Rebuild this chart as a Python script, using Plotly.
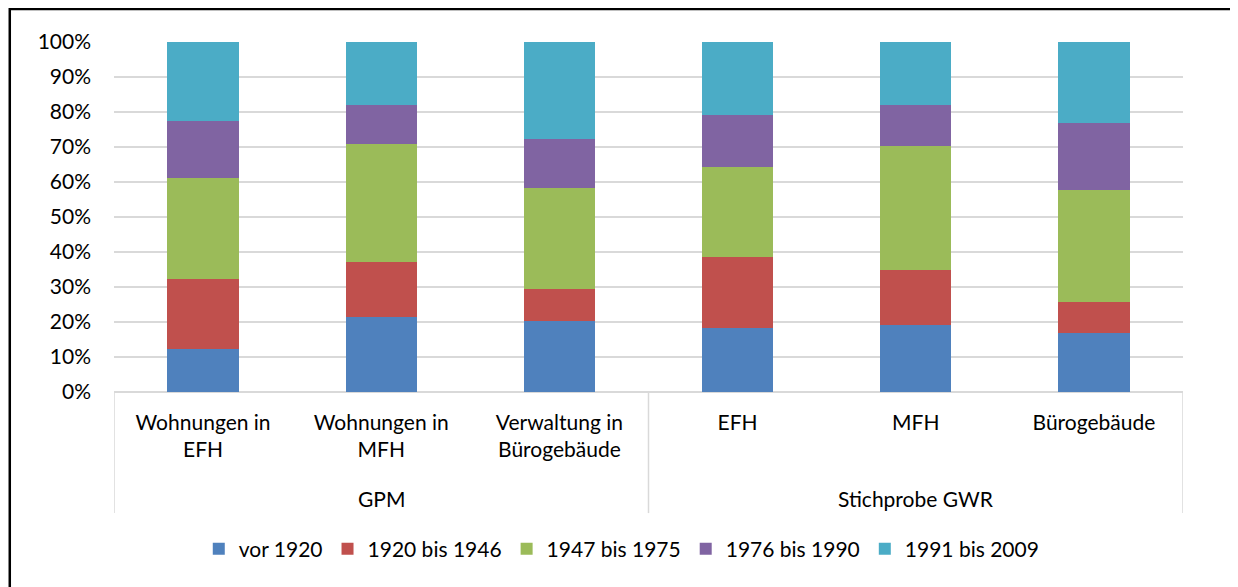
import plotly.graph_objects as go

categories = ["Wohnungen in EFH", "Wohnungen in MFH", "Verwaltung in Bürogebäude",
              "EFH", "MFH", "Bürogebäude"]
category_labels = ["Wohnungen in<br>EFH", "Wohnungen in<br>MFH", "Verwaltung in<br>Bürogebäude",
                   "EFH", "MFH", "Bürogebäude"]
groups = ["GPM", "Stichprobe GWR"]
group_members = [[0, 1, 2], [3, 4, 5]]

series_names = ["vor 1920", "1920 bis 1946", "1947 bis 1975", "1976 bis 1990", "1991 bis 2009"]
vor_1920 = [12.3, 21.3, 20.4, 18.2, 19.1, 17.0]
b1920_1946 = [20.0, 15.8, 8.9, 20.3, 15.9, 8.7]
b1947_1975 = [28.8, 33.8, 29.1, 25.8, 35.4, 32.0]
b1976_1990 = [16.3, 11.2, 14.0, 14.8, 11.6, 19.2]
b1991_2009 = [22.6, 17.9, 27.6, 20.9, 18.0, 23.1]
series_values = [vor_1920, b1920_1946, b1947_1975, b1976_1990, b1991_2009]
colors = ["#4F81BD", "#C0504D", "#9BBB59", "#8064A2", "#4BACC6"]

FONT = "Lato"
FS = 21

fig = go.Figure()
for name, vals, col in zip(series_names, series_values, colors):
    fig.add_trace(go.Bar(
        x=categories, y=vals, name=name,
        marker=dict(color=col, line=dict(width=0)),
        width=0.4,
    ))

shapes = []
# group divider lines below the category axis
for xv in [-0.5, 2.5, 5.5]:
    shapes.append(dict(type="line", xref="x", yref="paper", x0=xv, x1=xv, y0=0, y1=-0.346,
                       line=dict(color="#D9D9D9", width=1.5)))
# outer chart border
shapes.append(dict(type="rect", xref="paper", yref="paper", x0=-0.0975, x1=1.050, y0=-0.8, y1=1.0943,
                   line=dict(color="black", width=2.5), fillcolor="rgba(0,0,0,0)", layer="above"))

annotations = []
for g, members in zip(groups, group_members):
    annotations.append(dict(x=sum(members) / len(members), y=-0.303, xref="x", yref="paper",
                            text=g, showarrow=False, xanchor="center", yanchor="middle",
                            font=dict(family=FONT, size=FS, color="black")))

fig.update_layout(
    width=1230, height=579,
    margin=dict(l=106, r=55, t=34, b=195),
    paper_bgcolor="white", plot_bgcolor="white",
    barmode="stack", bargap=0.6,
    font=dict(family=FONT, size=FS, color="black"),
    showlegend=True,
    legend=dict(orientation="h", x=0.475, xanchor="center", y=-0.449, yanchor="middle",
                font=dict(family=FONT, size=FS, color="black"), traceorder="normal",
                itemwidth=30),
    xaxis=dict(type="category", categoryorder="array", categoryarray=categories,
               tickvals=categories, ticktext=category_labels,
               showgrid=False, showline=False, zeroline=False, ticks="",
               ticklabelstandoff=16, tickfont=dict(family=FONT, size=FS, color="black"),
               range=[-0.5, 5.5]),
    yaxis=dict(range=[0, 100], dtick=10, ticksuffix="%", showgrid=True,
               gridcolor="#D9D9D9", gridwidth=1.5, zeroline=True, zerolinecolor="#D9D9D9",
               zerolinewidth=1.5, showline=False, ticks="", ticklabelstandoff=22,
               tickfont=dict(family=FONT, size=FS, color="black")),
    shapes=shapes,
    annotations=annotations,
)

fig.write_html("out.html")
